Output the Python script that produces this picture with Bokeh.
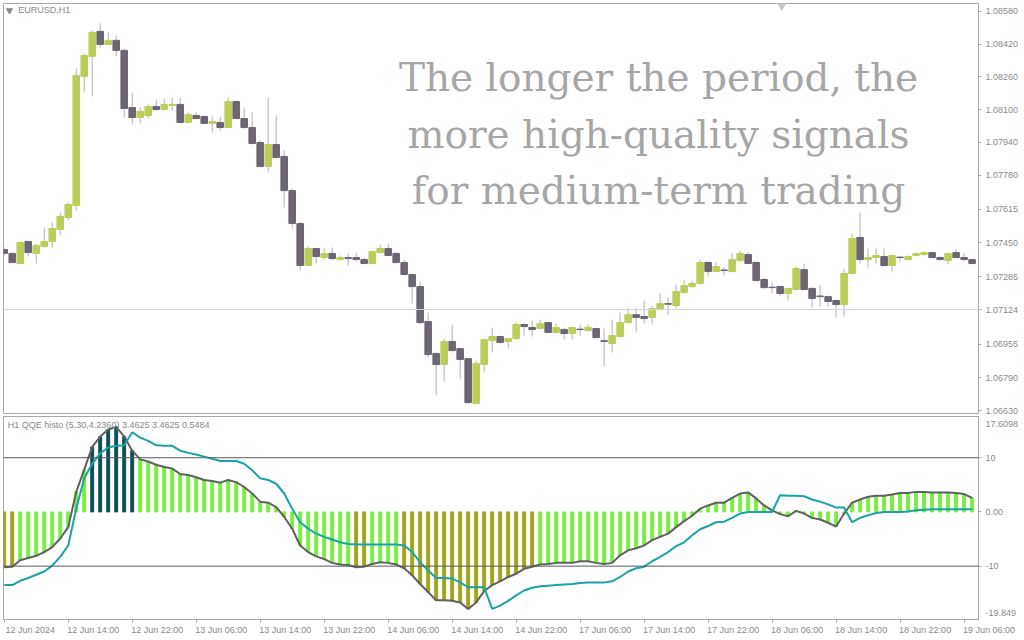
import numpy as np
from bokeh.plotting import figure
from bokeh.layouts import column
from bokeh.models import Range1d, FixedTicker, Label, Span, ColumnDataSource, PrintfTickFormatter
from bokeh.embed import file_html
from bokeh.resources import INLINE

# ---------------- data ----------------
symbol = "EURUSD,H1"
indicator_title = "H1 QQE histo (5,30,4.2360) 3.4625 3.4625 0.5484"
overlay_lines = ["The longer the period, the", "more high-quality signals", "for medium-term trading"]

time_labels = ["12 Jun 2024", "12 Jun 14:00", "12 Jun 22:00", "13 Jun 06:00", "13 Jun 14:00",
               "13 Jun 22:00", "14 Jun 06:00", "14 Jun 14:00", "14 Jun 22:00", "17 Jun 06:00",
               "17 Jun 14:00", "17 Jun 22:00", "18 Jun 06:00", "18 Jun 14:00", "18 Jun 22:00",
               "19 Jun 06:00"]
time_label_bars = [0, 8, 16, 24, 32, 40, 48, 56, 64, 72, 80, 88, 96, 104, 112, 120]

price_ticks = [1.08580, 1.08420, 1.08260, 1.08100, 1.07940, 1.07780, 1.07615, 1.07450,
               1.07285, 1.06955, 1.06790, 1.06630]
current_price = 1.07124
qqe_ticks = [10, 0, -10]
qqe_tick_labels = ["10", "0.00", "-10"]
qqe_max = 17.6098
qqe_min = -19.849
qqe_levels = [10, -10]

open_ = [1.07417, 1.07398, 1.07349, 1.07456, 1.07398, 1.07432, 1.07456, 1.07515, 1.07574, 1.07632,
         1.08263, 1.08360, 1.08483, 1.08419, 1.08439, 1.08390, 1.08111, 1.08062, 1.08072, 1.08116,
         1.08101, 1.08121, 1.08126, 1.08038, 1.08072, 1.08067, 1.08033, 1.08038, 1.08013, 1.08140,
         1.08057, 1.08013, 1.07940, 1.07823, 1.07930, 1.07872, 1.07705, 1.07544, 1.07339, 1.07422,
         1.07378, 1.07398, 1.07368, 1.07378, 1.07378, 1.07368, 1.07349, 1.07402, 1.07422, 1.07398,
         1.07354, 1.07295, 1.07236, 1.07065, 1.06909, 1.06855, 1.06968, 1.06933, 1.06884, 1.06665,
         1.06855, 1.06972, 1.06992, 1.06968, 1.06982, 1.07051, 1.07036, 1.07031, 1.07060, 1.07012,
         1.07026, 1.07007, 1.07028, 1.07021, 1.07031, 1.06972, 1.06958, 1.06992, 1.07060, 1.07099,
         1.07090, 1.07085, 1.07124, 1.07153, 1.07143, 1.07207, 1.07236, 1.07251, 1.07354, 1.07310,
         1.07317, 1.07310, 1.07363, 1.07393, 1.07354, 1.07271, 1.07233, 1.07236, 1.07202, 1.07222,
         1.07319, 1.07227, 1.07190, 1.07187, 1.07168, 1.07148, 1.07300, 1.07476, 1.07368, 1.07378,
         1.07383, 1.07339, 1.07380, 1.07368, 1.07388, 1.07393, 1.07402, 1.07378, 1.07363, 1.07402,
         1.07378, 1.07368]
high = [1.07427, 1.07402, 1.07456, 1.07456, 1.07446, 1.07525, 1.07549, 1.07598, 1.07647, 1.08302,
        1.08375, 1.08487, 1.08522, 1.08478, 1.08463, 1.08399, 1.08184, 1.08111, 1.08126, 1.08150,
        1.08155, 1.08160, 1.08160, 1.08087, 1.08087, 1.08072, 1.08067, 1.08067, 1.08160, 1.08145,
        1.08111, 1.08087, 1.07950, 1.08160, 1.08072, 1.07901, 1.07715, 1.07549, 1.07432, 1.07422,
        1.07422, 1.07427, 1.07388, 1.07398, 1.07402, 1.07378, 1.07412, 1.07442, 1.07446, 1.07402,
        1.07368, 1.07300, 1.07261, 1.07109, 1.06914, 1.06982, 1.07051, 1.06938, 1.06889, 1.06875,
        1.06982, 1.07036, 1.06997, 1.06987, 1.07060, 1.07055, 1.07070, 1.07075, 1.07065, 1.07055,
        1.07036, 1.07041, 1.07051, 1.07051, 1.07036, 1.07031, 1.07075, 1.07109, 1.07134, 1.07134,
        1.07168, 1.07143, 1.07202, 1.07183, 1.07246, 1.07266, 1.07266, 1.07368, 1.07359, 1.07354,
        1.07329, 1.07398, 1.07412, 1.07407, 1.07359, 1.07276, 1.07256, 1.07241, 1.07231, 1.07334,
        1.07344, 1.07231, 1.07241, 1.07192, 1.07173, 1.07324, 1.07495, 1.07598, 1.07422, 1.07422,
        1.07422, 1.07393, 1.07383, 1.07388, 1.07402, 1.07407, 1.07407, 1.07383, 1.07402, 1.07417,
        1.07398, 1.07373]
low = [1.07388, 1.07349, 1.07349, 1.07383, 1.07349, 1.07427, 1.07427, 1.07486, 1.07559, 1.07608,
       1.08184, 1.08165, 1.08404, 1.08419, 1.08360, 1.08062, 1.08028, 1.08033, 1.08057, 1.08096,
       1.08096, 1.08096, 1.08033, 1.08033, 1.08052, 1.08028, 1.07989, 1.07999, 1.08013, 1.08057,
       1.08008, 1.07930, 1.07818, 1.07793, 1.07862, 1.07622, 1.07520, 1.07315, 1.07339, 1.07349,
       1.07368, 1.07363, 1.07363, 1.07339, 1.07363, 1.07344, 1.07344, 1.07398, 1.07383, 1.07349,
       1.07290, 1.07153, 1.07051, 1.06889, 1.06704, 1.06772, 1.06914, 1.06782, 1.06665, 1.06665,
       1.06816, 1.06914, 1.06958, 1.06933, 1.06977, 1.06997, 1.06992, 1.07026, 1.07007, 1.07007,
       1.06977, 1.06977, 1.06997, 1.07016, 1.06982, 1.06845, 1.06914, 1.06987, 1.07060, 1.07012,
       1.07055, 1.07051, 1.07124, 1.07099, 1.07129, 1.07202, 1.07231, 1.07246, 1.07285, 1.07305,
       1.07290, 1.07305, 1.07359, 1.07344, 1.07261, 1.07227, 1.07202, 1.07192, 1.07168, 1.07217,
       1.07217, 1.07134, 1.07139, 1.07139, 1.07085, 1.07090, 1.07295, 1.07349, 1.07329, 1.07349,
       1.07334, 1.07310, 1.07359, 1.07363, 1.07383, 1.07388, 1.07373, 1.07363, 1.07344, 1.07373,
       1.07363, 1.07344]
close = [1.07398, 1.07354, 1.07451, 1.07402, 1.07437, 1.07456, 1.07520, 1.07578, 1.07637, 1.08267,
         1.08365, 1.08478, 1.08419, 1.08439, 1.08390, 1.08106, 1.08062, 1.08092, 1.08116, 1.08101,
         1.08126, 1.08126, 1.08038, 1.08077, 1.08057, 1.08033, 1.08043, 1.08013, 1.08140, 1.08057,
         1.08013, 1.07935, 1.07823, 1.07930, 1.07867, 1.07705, 1.07544, 1.07339, 1.07422, 1.07383,
         1.07398, 1.07373, 1.07378, 1.07373, 1.07368, 1.07349, 1.07407, 1.07422, 1.07388, 1.07354,
         1.07295, 1.07236, 1.07060, 1.06904, 1.06855, 1.06968, 1.06924, 1.06880, 1.06669, 1.06860,
         1.06977, 1.06992, 1.06963, 1.06982, 1.07051, 1.07041, 1.07026, 1.07055, 1.07012, 1.07036,
         1.07007, 1.07036, 1.07026, 1.07036, 1.06987, 1.06968, 1.06997, 1.07060, 1.07099, 1.07085,
         1.07080, 1.07129, 1.07153, 1.07150, 1.07212, 1.07241, 1.07251, 1.07354, 1.07310, 1.07334,
         1.07315, 1.07368, 1.07398, 1.07349, 1.07266, 1.07231, 1.07231, 1.07202, 1.07227, 1.07324,
         1.07222, 1.07178, 1.07187, 1.07163, 1.07148, 1.07300, 1.07471, 1.07368, 1.07378, 1.07388,
         1.07339, 1.07388, 1.07378, 1.07383, 1.07398, 1.07402, 1.07378, 1.07368, 1.07398, 1.07378,
         1.07368, 1.07349]

qqe_rsi = [-10.2, -10.1, -8.9, -8.5, -8.1, -7.4, -6.5, -4.9, -2.8, 3.7,
           7.8, 12.0, 13.9, 15.2, 15.7, 13.9, 11.3, 9.7, 9.3, 8.7,
           8.3, 8.0, 7.0, 6.8, 6.4, 5.9, 5.7, 5.4, 5.9, 5.5,
           4.6, 3.4, 1.9, 1.7, 0.9, -0.9, -3.1, -6.2, -7.4, -8.2,
           -8.7, -9.4, -9.7, -9.8, -10.2, -10.1, -9.6, -9.3, -9.4, -9.7,
           -10.4, -11.7, -13.3, -14.8, -16.3, -16.3, -16.4, -16.7, -17.9, -16.7,
           -14.6, -13.5, -12.8, -12.0, -11.4, -10.5, -10.1, -9.7, -9.6, -9.4,
           -9.4, -9.4, -9.1, -9.1, -9.4, -9.6, -9.4, -8.0, -7.1, -6.7,
           -6.2, -5.2, -4.6, -4.0, -2.8, -1.7, -0.7, 0.6, 1.2, 1.7,
           1.7, 2.6, 3.4, 3.6, 2.5, 1.2, 0.3, -0.4, -0.8, 0.2,
           -0.3, -1.1, -1.4, -2.0, -2.7, -0.3, 1.7, 2.3, 2.8, 3.0,
           3.0, 3.2, 3.5, 3.5, 3.7, 3.7, 3.6, 3.6, 3.6, 3.5,
           3.3, 2.6]
qqe_trail = [-13.5, -13.5, -12.7, -12.2, -11.6, -11.0, -9.9, -8.3, -6.2, 0.6,
             6.2, 8.9, 10.8, 11.9, 12.2, 12.3, 14.7, 13.7, 13.1, 12.3,
             12.2, 12.2, 11.3, 10.9, 10.6, 10.2, 9.8, 9.4, 9.4, 9.4,
             8.9, 7.7, 6.2, 5.9, 5.2, 3.4, 0.6, -1.9, -3.1, -4.0,
             -4.6, -5.1, -5.6, -5.9, -6.0, -6.0, -6.0, -6.0, -6.0, -6.0,
             -6.2, -7.4, -9.3, -10.8, -12.2, -12.2, -12.3, -13.0, -13.9, -13.9,
             -13.9, -17.9, -17.3, -16.4, -15.4, -14.5, -14.0, -13.7, -13.6, -13.5,
             -13.4, -13.3, -13.1, -13.0, -13.0, -13.0, -12.8, -12.0, -11.0, -10.4,
             -10.1, -9.1, -8.3, -7.4, -6.3, -5.6, -4.3, -3.2, -2.6, -1.9,
             -1.8, -1.1, -0.3, 0.0, 0.0, 0.0, 0.0, 3.1, 3.0, 3.0,
             2.9, 2.3, 1.9, 1.4, 0.8, 0.8, -1.9, -1.1, -0.6, -0.2,
             0.0, 0.0, 0.0, 0.1, 0.3, 0.4, 0.5, 0.5, 0.5, 0.5,
             0.5, 0.5]

# ---------------- styling ----------------
BULL = "#bbcd5a"
BEAR = "#6d6573"
WICK = "#b3b3b3"
AXIS_TXT = "#8a8a8a"
FONT = "Liberation Sans"
FRAME = "#a9a9a9"
W = 975
H1 = 410
H2 = 203
XR = Range1d(-0.09, 121.8)

idx = np.arange(len(open_))
o = np.array(open_); c = np.array(close)
src = ColumnDataSource(dict(
    x=idx, high=high, low=low,
    top=np.maximum(o, c), bottom=np.minimum(o, c),
    color=[BULL if cc >= oo else BEAR for oo, cc in zip(open_, close)]))


def style_axis(ax):
    ax.axis_line_color = FRAME
    ax.major_tick_line_color = FRAME
    ax.major_tick_out = 3
    ax.major_tick_in = 0
    ax.minor_tick_line_color = None
    ax.major_label_text_font = FONT
    ax.major_label_text_font_size = "9px"
    ax.major_label_text_color = AXIS_TXT
    ax.major_label_standoff = 4


# ---------------- main price panel ----------------
p = figure(frame_width=W, frame_height=H1, x_range=XR, y_range=Range1d(1.06616, 1.08619),
           output_backend="svg", toolbar_location=None, y_axis_location="right",
           min_border_left=3, min_border_right=44, min_border_top=3, min_border_bottom=3)
p.xaxis.visible = False
p.grid.visible = False
p.outline_line_color = FRAME
style_axis(p.yaxis[0])
all_price_ticks = sorted(price_ticks + [current_price])
p.yaxis[0].ticker = FixedTicker(ticks=all_price_ticks)
p.yaxis[0].formatter = PrintfTickFormatter(format="%.5f")

p.add_layout(Span(location=current_price, dimension="width", line_color="#d4d4d4", line_width=1))

for k, line in enumerate(overlay_lines):
    p.add_layout(Label(x=81.8, y=1.08258 - k * 0.00277, text=line, text_align="center",
                       text_baseline="middle", text_font="DejaVu Serif", text_font_size="39px",
                       text_color="#a6a6a6"))

p.segment(x0="x", y0="low", x1="x", y1="high", source=src, line_color=WICK, line_width=1)
p.vbar(x="x", top="top", bottom="bottom", width=0.82, source=src,
       fill_color="color", line_color="color", line_width=1)

p.scatter(x=[0.66], y=[1.08585], marker="inverted_triangle", size=6, color=AXIS_TXT)
p.add_layout(Label(x=1.75, y=1.08585, text=symbol, text_font=FONT, text_font_size="9px",
                   text_color=AXIS_TXT, text_baseline="middle"))
p.scatter(x=[97.2], y=[1.08608], marker="inverted_triangle", size=8, color="#c8c8c8")

# ---------------- QQE panel ----------------
q = figure(frame_width=W, frame_height=H2, x_range=XR, y_range=Range1d(qqe_min, qqe_max),
           output_backend="svg", toolbar_location=None, y_axis_location="right",
           min_border_left=3, min_border_right=44, min_border_top=0, min_border_bottom=0)
q.grid.visible = False
q.outline_line_color = FRAME

# y axis: MT4 draws the window max/min labels just inside the panel
units_per_px = (qqe_max - qqe_min) / H2
inset = 7 * units_per_px
yq = q.yaxis[0]
style_axis(yq)
label_pos = [qqe_max - inset] + qqe_ticks + [qqe_min + inset]
label_txt = ["17.6098"] + qqe_tick_labels + ["-19.849"]
yq.ticker = FixedTicker(ticks=label_pos, minor_ticks=qqe_ticks)
yq.major_label_overrides = {t: s for t, s in zip(label_pos, label_txt)}
yq.major_tick_line_color = None
yq.minor_tick_line_color = FRAME
yq.minor_tick_out = 3
yq.minor_tick_in = 0

# x axis: labels start at their tick (MT4 style) -> pad on the left with no-break spaces
xq = q.xaxis[0]
style_axis(xq)
xq.ticker = FixedTicker(ticks=time_label_bars)
pads = ["\u00a0" * (2 if k == 0 else 20) for k in range(len(time_labels))]
xq.major_label_overrides = {t: pd + s for t, pd, s in zip(time_label_bars, pads, time_labels)}
xq.major_label_standoff = 2

for lv in qqe_levels:
    q.add_layout(Span(location=lv, dimension="width", line_color="#595959", line_width=1))

hist_colors = ["#0b4e58" if v > 10 else ("#a3a319" if v < -10 else "#79ee40") for v in qqe_rsi]
q.vbar(x=idx, top=qqe_rsi, bottom=0, width=0.36, color=hist_colors)
q.line(idx, qqe_rsi, line_color="#616161", line_width=2)
q.line(idx, qqe_trail, line_color="#19a3a6", line_width=2)

q.add_layout(Label(x=0.45, y=qqe_max, y_offset=-8, text=indicator_title, text_font=FONT,
                   text_font_size="9px", text_color=AXIS_TXT, text_baseline="middle"))

layout = column(p, q, spacing=0)
open("out.html", "w").write(file_html(layout, INLINE))
